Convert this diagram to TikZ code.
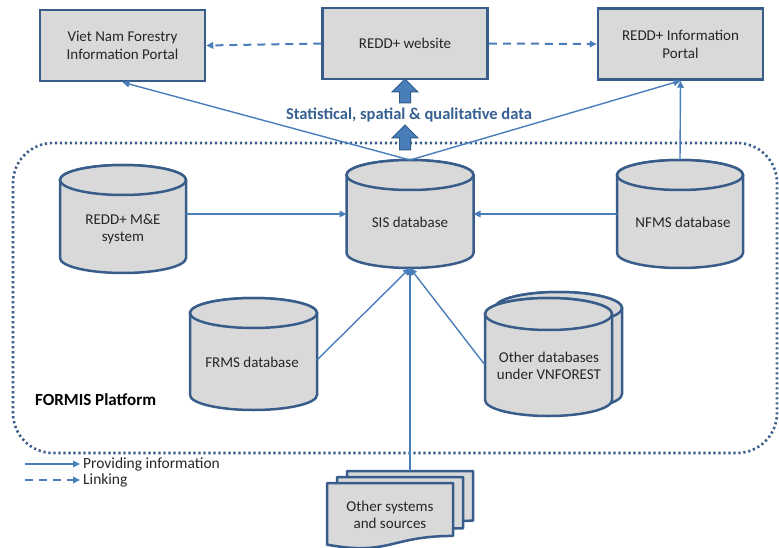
\documentclass[tikz,border=0pt]{standalone}
\usepackage{fontspec}
\setmainfont{Carlito}
\usetikzlibrary{arrows.meta}
\definecolor{bord}{HTML}{385D8A}
\definecolor{fillg}{HTML}{D9D9D9}
\definecolor{arr}{HTML}{4A7EBB}
\definecolor{txt}{HTML}{262626}
\definecolor{blkfill}{HTML}{4A7EBB}
\definecolor{blkdraw}{HTML}{2F5B8C}
\definecolor{boldblue}{HTML}{376092}
\tikzset{
  topbox/.style={draw=bord, line width=2.5pt, fill=fillg, minimum width=165pt, minimum height=71pt,
    align=center, font=\fontsize{15}{18}\selectfont, text=txt, inner sep=0pt},
  cylb/.style={draw=bord, line width=2.5pt, fill=fillg},
  anch/.style={inner sep=0pt, outer sep=0pt},
  ctext/.style={align=center, font=\fontsize{15}{17}\selectfont, text=txt, inner sep=0pt},
  prov/.style={draw=arr, line width=1.4pt, -{Triangle[length=7pt,width=6.5pt]}},
  linkarr/.style={draw=arr, line width=2pt, dash pattern=on 8pt off 6pt, -{Triangle[length=7pt,width=6.5pt]}},
  blockarr/.style={fill=blkfill, draw=blkdraw, line width=1pt},
  platform/.style={draw=bord, line width=2.6pt, dash pattern=on 2.2pt off 2.8pt, rounded corners=40pt, inner sep=0pt},
  docsh/.style={draw=bord, line width=2.5pt, fill=fillg, line join=round},
  legtext/.style={anchor=west, font=\fontsize{15.5}{17}\selectfont, text=txt, inner sep=0pt}
}
% cylinder: name, cx, top, w, h, ry
\newcommand\mycyl[6]{%
  \pgfmathsetmacro\cxl{#2-#4/2}\pgfmathsetmacro\cxr{#2+#4/2}%
  \pgfmathsetmacro\cyt{#3+#6}\pgfmathsetmacro\cyb{#3+#5-#6}%
  \pgfmathsetmacro\crx{#4/2}\pgfmathsetmacro\ccy{#3+#5/2}%
  \draw[cylb] (\cxl,\cyt) -- (\cxl,\cyb) arc[start angle=180,end angle=0,x radius=\crx,y radius=#6]
     -- (\cxr,\cyt) arc[start angle=0,end angle=-180,x radius=\crx,y radius=#6] -- cycle;
  \draw[cylb] (#2,\cyt) ellipse[x radius=\crx,y radius=#6];
  \node[anch, minimum width=#4pt, minimum height=#5pt] (#1) at (#2,\ccy) {};
}
% document shape: x0, top, w, h
\newcommand\mydoc[4]{%
  \pgfmathsetmacro\dxr{#1+#3}\pgfmathsetmacro\dxm{#1+0.5*#3}%
  \pgfmathsetmacro\dyr{#2+0.802*#4}\pgfmathsetmacro\dyc{#2+1.107*#4}\pgfmathsetmacro\dyl{#2+0.934*#4}%
  \draw[docsh] (#1,#2) -- (\dxr,#2) -- (\dxr,\dyr) .. controls (\dxm,\dyr) and (\dxm,\dyc) .. (#1,\dyl) -- cycle;
}
% block arrow: cx, ybottom, ytop
\newcommand\myblock[3]{%
  \pgfmathsetmacro\bsl{#1-5.5}\pgfmathsetmacro\bsr{#1+5.5}%
  \pgfmathsetmacro\bhl{#1-13}\pgfmathsetmacro\bhr{#1+13}%
  \pgfmathsetmacro\bhy{#3+13}%
  \draw[blockarr] (\bsl,#2) -- (\bsl,\bhy) -- (\bhl,\bhy) -- (#1,#3) -- (\bhr,\bhy) -- (\bsr,\bhy) -- (\bsr,#2) -- cycle;
}
\begin{document}
\begin{tikzpicture}[x=1pt,y=-1pt]
\useasboundingbox (0,0) rectangle (779,548);

% platform frame
\node[platform, minimum width=764pt, minimum height=310pt] (plat) at (395,298) {};
\node[anchor=west, font=\fontsize{17}{19}\selectfont\bfseries, inner sep=0pt] (platlbl) at (35,400) {FORMIS Platform};

% top boxes
\node[topbox] (vnp) at (122.5,45.5) {Viet Nam Forestry\\Information Portal};
\node[topbox] (web) at (405,43.5) {REDD+ website};
\node[topbox] (rip) at (680.5,44) {REDD+ Information\\Portal};

% cylinders
\mycyl{me}{123}{165}{126}{108}{15}
\node[ctext] (met) at (123,229.5) {REDD+ M\&E\\system};
\mycyl{sis}{410}{160}{127}{108}{15}
\node[ctext] (sist) at (410,222) {SIS database};
\mycyl{nfms}{680}{160}{126}{108}{15}
\node[ctext] (nfmst) at (683,222) {NFMS database};
\mycyl{frms}{253.5}{298}{127}{112}{15}
\node[ctext] (frmst) at (252,362) {FRMS database};
\mycyl{odbb}{558.5}{292}{127}{118}{16}
\mycyl{odb}{548.5}{298}{127}{118}{16}
\node[ctext] (odbt) at (549,365.5) {Other databases\\under VNFOREST};

% documents
\mydoc{347}{471}{126}{62}
\mydoc{337}{477}{126}{64}
\mydoc{327}{483}{126}{66}
\node[anch, minimum width=126pt, minimum height=58pt] (osrc) at (410,500) {};
\node[ctext] (osrct) at (390,515) {Other systems\\and sources};

% block arrows and label
\myblock{405}{103}{79}
\myblock{405}{150}{125}
\node[font=\fontsize{16.5}{18}\selectfont\bfseries, text=boldblue, inner sep=0pt] (datalbl) at (409,115) {Statistical, spatial \& qualitative data};

% connectors
\draw[linkarr] (web.west) -- (vnp.east);
\draw[linkarr] (web.east) -- (rip.west);
\draw[prov] (sis.north) -- (vnp.south);
\draw[prov] (sis.north) -- (rip.south);
\draw[prov] (nfms.north) -- (rip.south);
\draw[prov] (me.east |- sis.west) -- (sis.west);
\draw[prov] (nfms.west) -- (sis.east);
\draw[prov] ([yshift=-6pt]frms.east) -- (sis.south);
\draw[prov] ([yshift=-8pt]odb.west) -- (sis.south);
\draw[prov] (osrc.north) -- (sis.south);

% legend
\coordinate (l1a) at (25,464);
\coordinate (l1b) at (80,464);
\coordinate (l2a) at (25,480);
\coordinate (l2b) at (80,480);
\draw[prov] (l1a) -- (l1b);
\draw[linkarr] (l2a) -- (l2b);
\node[legtext] (leg1) at (83,464) {Providing information};
\node[legtext] (leg2) at (83,480) {Linking};
\end{tikzpicture}
\end{document}
